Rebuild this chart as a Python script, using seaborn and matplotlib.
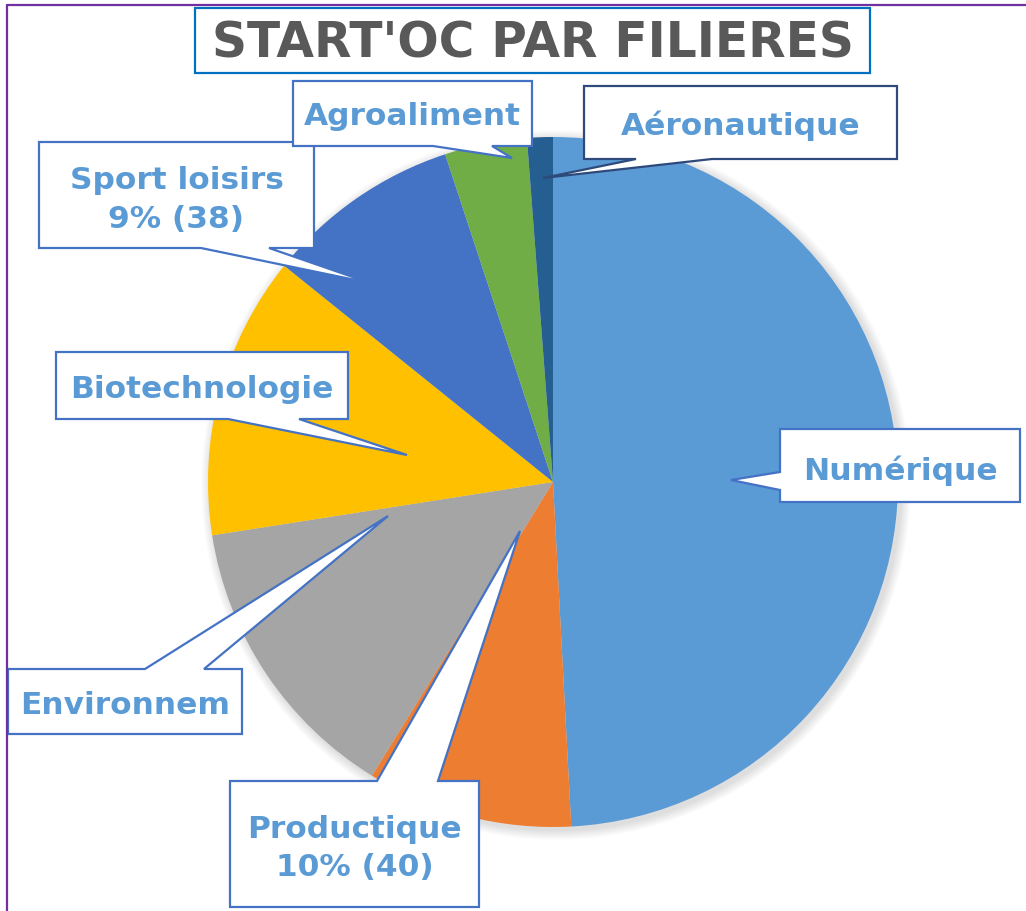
import matplotlib
matplotlib.use("Agg")
import matplotlib.pyplot as plt
from matplotlib.patches import Polygon, Rectangle, Circle
import seaborn as sns

# ---------------- data ----------------
categories = ["Numérique", "Productique", "Environnement", "Biotechnologie",
              "Sport loisirs", "Agroalimentaire", "Aéronautique"]
values = [204, 40, 57, 55, 38, 16, 5]
display_names = ["Numérique", "Productique", "Environnem", "Biotechnologie",
                 "Sport loisirs", "Agroaliment", "Aéronautique"]
show_value = [False, True, False, False, True, False, False]
title = "START'OC PAR FILIERES"

# ---------------- style ----------------
slice_colors = ["#5B9BD5", "#ED7D31", "#A5A5A5", "#FFC000",
                "#4472C4", "#70AD47", "#255E91"]
sns.set_theme(style="white")
plt.rcParams['font.family'] = ['DejaVu Sans']

W, H = 1026, 911
fig = plt.figure(figsize=(W / 100, H / 100), dpi=100)
ax = fig.add_axes([0, 0, 1, 1])


def Y(py):
    return H - py


# callout layout (pixel coords, y down): box, side, pointer base, pointer tip,
# text baselines, edge colour
callout_layout = {
    "Numérique": dict(box=(780, 429, 1020, 502), side="left", base=(472, 490), tip=(731, 480),
                      baselines=[480], ec="#4472C4"),
    "Productique": dict(box=(230, 781, 479, 907), side="top", base=(377, 438), tip=(520, 531),
                        baselines=[838, 876], ec="#4472C4"),
    "Environnement": dict(box=(8, 669, 242, 734), side="top", base=(145, 204), tip=(388, 516),
                          baselines=[714], ec="#4472C4"),
    "Biotechnologie": dict(box=(56, 352, 348, 419), side="bottom", base=(228, 299), tip=(407, 455),
                           baselines=[398], ec="#4472C4"),
    "Sport loisirs": dict(box=(39, 142, 314, 248), side="bottom", base=(201, 269), tip=(370, 283),
                          baselines=[189, 228], ec="#4472C4"),
    "Agroalimentaire": dict(box=(293, 81, 532, 146), side="bottom", base=(433, 492), tip=(512, 158),
                            baselines=[125], ec="#4472C4"),
    "Aéronautique": dict(box=(584, 86, 897, 159), side="bottom", base=(636, 712), tip=(543, 178),
                         baselines=[135], ec="#2E4A7A"),
}

cx, cy, R = 553, 482, 345

# soft shadow behind the pie
for k in range(1, 12):
    ax.add_patch(Circle((cx + 3, Y(cy + 3)), R + k * 0.9, facecolor="black",
                        edgecolor="none", alpha=0.012, zorder=0))

palette = sns.color_palette(slice_colors)
ax.pie(values, colors=palette, startangle=90, counterclock=False,
       center=(cx, Y(cy)), radius=R, wedgeprops=dict(linewidth=0, zorder=1))

ax.set_xlim(0, W)
ax.set_ylim(0, H)
ax.set_aspect('equal')
ax.axis('off')


def callout_vertices(box, side, base, tip):
    x0, y0, x1, y1 = box
    a, b = base
    if side == "top":
        pts = [(x0, y0), (a, y0), tip, (b, y0), (x1, y0), (x1, y1), (x0, y1)]
    elif side == "bottom":
        pts = [(x0, y0), (x1, y0), (x1, y1), (b, y1), tip, (a, y1), (x0, y1)]
    elif side == "left":
        pts = [(x0, y0), (x1, y0), (x1, y1), (x0, y1), (x0, b), tip, (x0, a)]
    else:
        pts = [(x0, y0), (x1, y0), (x1, a), tip, (x1, b), (x1, y1), (x0, y1)]
    return [(px, Y(py)) for px, py in pts]


total = sum(values)
label_color = "#5B9BD5"
for cat, name, v, sv in zip(categories, display_names, values, show_value):
    lay = callout_layout[cat]
    verts = callout_vertices(lay["box"], lay["side"], lay["base"], lay["tip"])
    ax.add_patch(Polygon(verts, closed=True, facecolor="white", edgecolor=lay["ec"],
                         linewidth=1.6, joinstyle="miter", zorder=5))
    lines = [name]
    if sv:
        lines.append(f"{round(v / total * 100)}% ({v})")
    x0, y0, x1, y1 = lay["box"]
    for line, bl in zip(lines, lay["baselines"]):
        ax.text((x0 + x1) / 2, Y(bl), line, ha="center", va="baseline",
                fontsize=22.5, fontweight="bold", color=label_color, zorder=6)

# title box
ax.add_patch(Rectangle((195, Y(73)), 870 - 195, 73 - 8, facecolor="white",
                       edgecolor="#0070C0", linewidth=1.6, zorder=7))
ax.text(533, Y(57), title, ha="center", va="baseline", fontsize=35,
        fontweight="bold", color="#595959", zorder=8)

# outer purple frame
ax.plot([7, 7], [Y(5), Y(H + 5)], color="#7030A0", linewidth=1.6, zorder=9, clip_on=False)
ax.plot([7, W + 5], [Y(5), Y(5)], color="#7030A0", linewidth=1.6, zorder=9, clip_on=False)

fig.savefig("out.png", dpi=100, facecolor="white")
